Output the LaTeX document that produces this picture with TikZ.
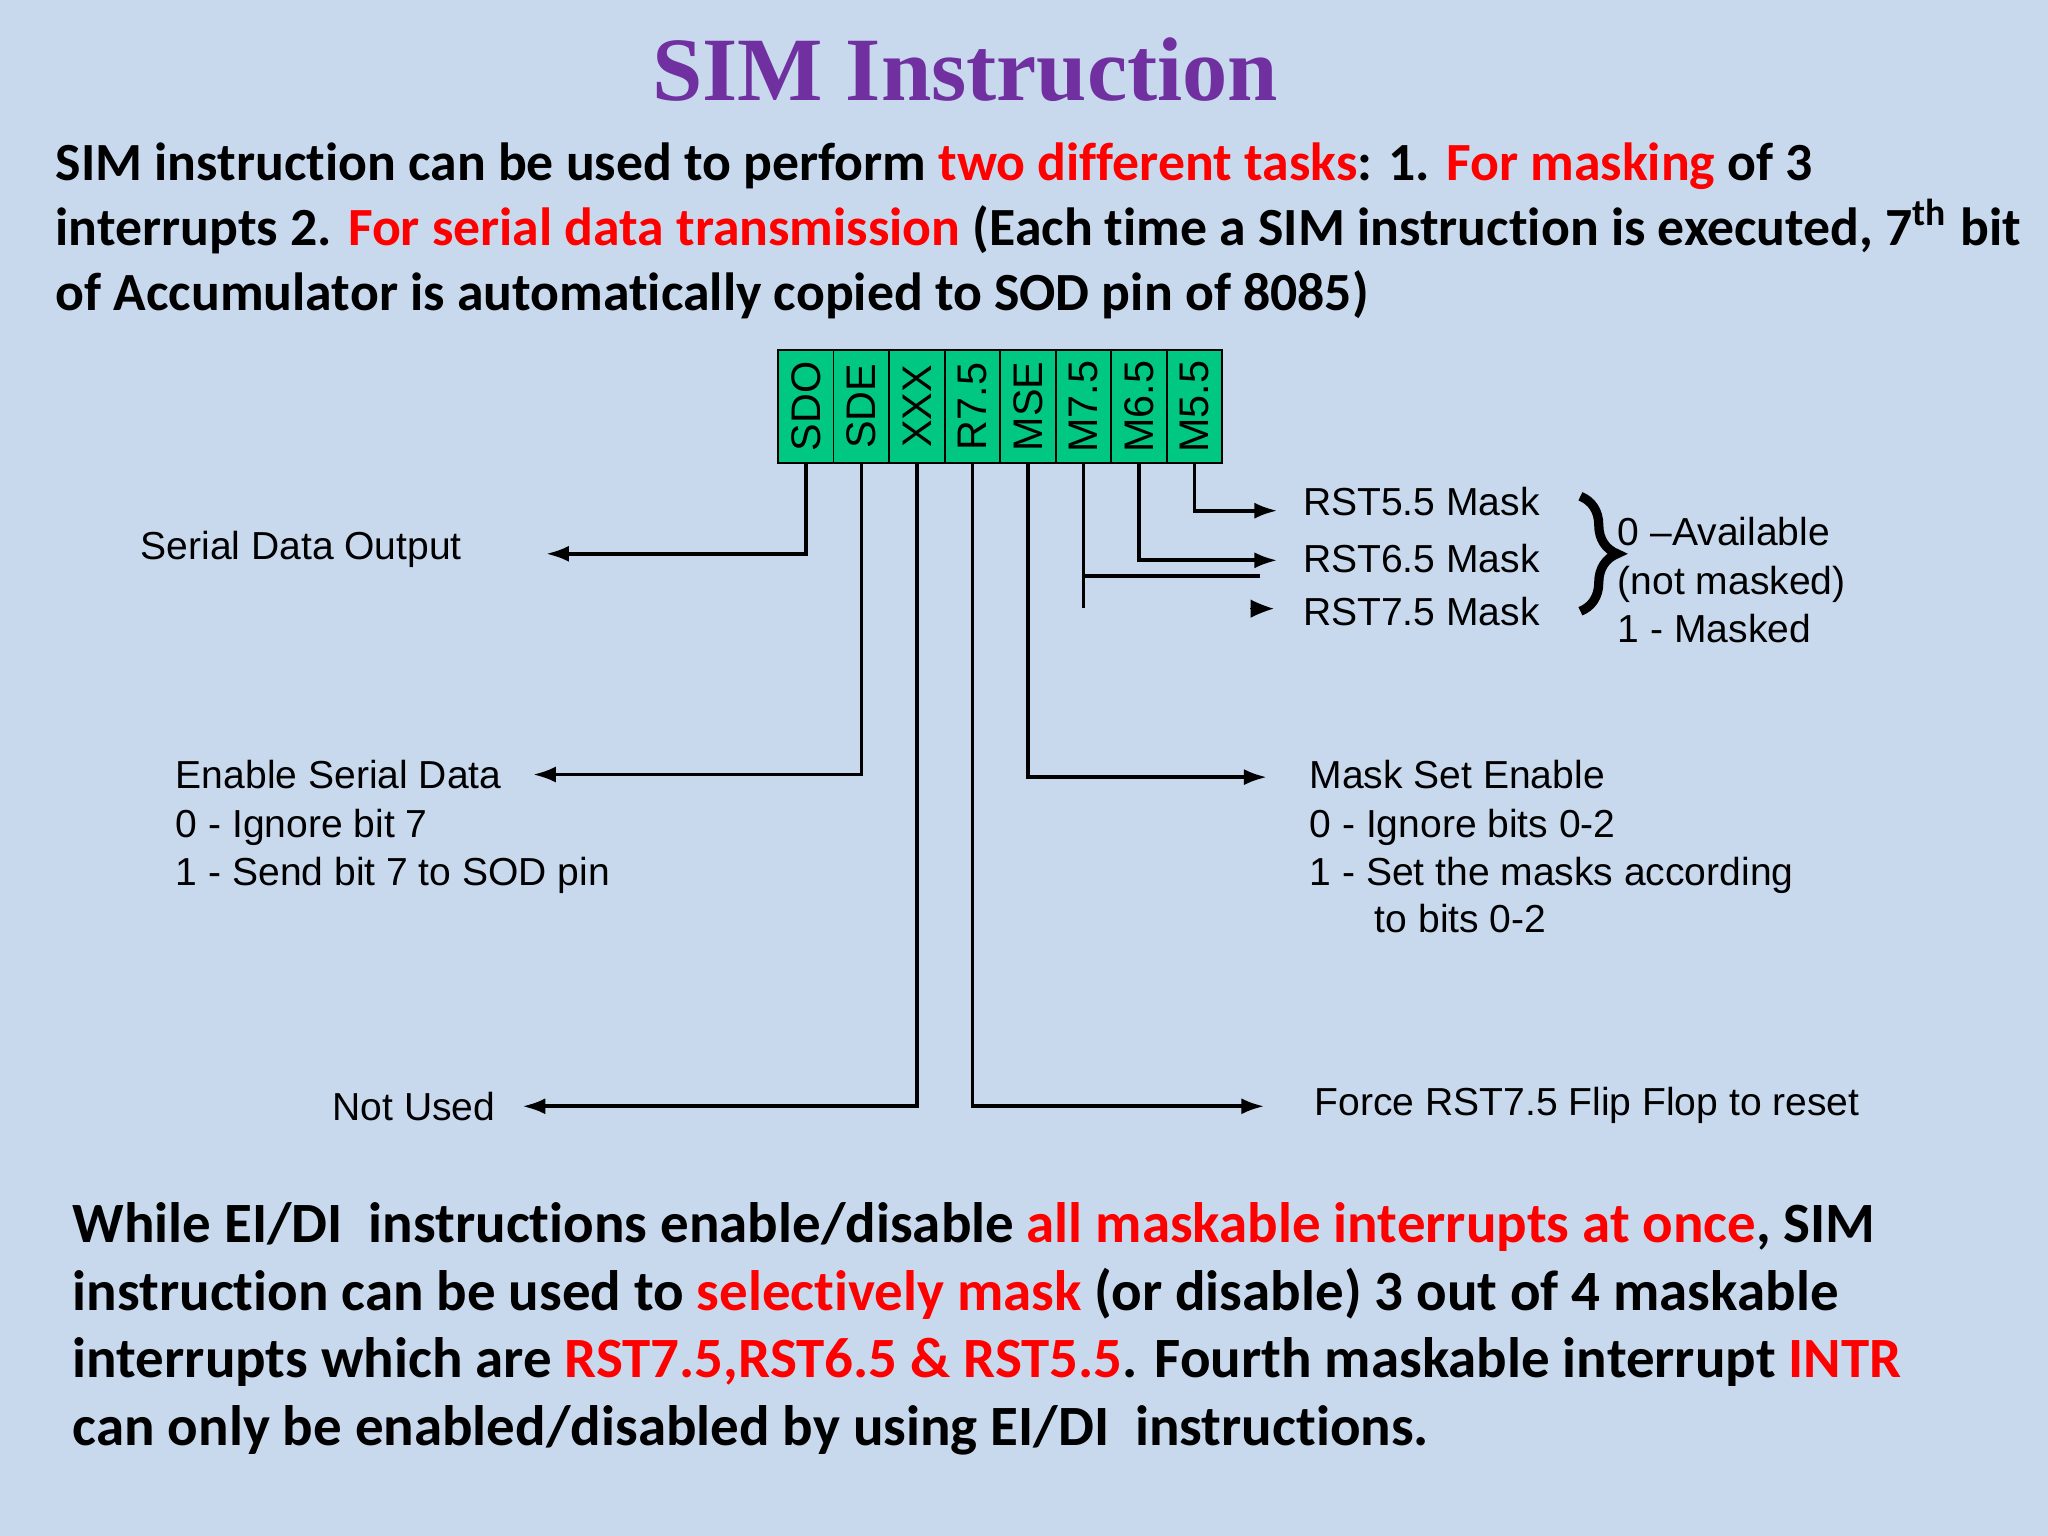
\documentclass[tikz,border=0pt]{standalone}
\usepackage{fontspec}
\setmainfont{Liberation Sans}
\newfontfamily\titlefont{Liberation Serif}
\newfontfamily\bodyfont[Ligatures=NoCommon]{Carlito}
\usetikzlibrary{arrows.meta,decorations.pathreplacing}
\definecolor{bg}{RGB}{200,217,238}
\definecolor{cellg}{RGB}{0,200,130}
\definecolor{ttl}{RGB}{112,48,160}
\definecolor{rd}{RGB}{255,0,0}
\newcommand{\rr}[1]{\textcolor{rd}{#1}}
\begin{document}
\begin{tikzpicture}[x=0.01cm,y=-0.01cm,
  para/.style={anchor=base west,inner sep=0,font=\bodyfont\bfseries\fontsize{11.7}{13}\selectfont},
  parb/.style={anchor=base west,inner sep=0,font=\bodyfont\bfseries\fontsize{12.4}{14}\selectfont},
  lbl/.style={anchor=base west,inner sep=0,font=\fontsize{8.5}{10}\selectfont},
  cell/.style={draw,fill=cellg,minimum width=0.425cm,minimum height=0.87cm,inner sep=0,anchor=north west},
  conn/.style={line width=0.8pt,-{Latex[length=5pt,width=3.5pt]}},
  plain/.style={line width=0.8pt}]
\fill[bg] (0,0) rectangle (1568,1176);
\useasboundingbox (0,0) rectangle (1568,1176);
\node[font=\titlefont\bfseries\fontsize{19.7}{24}\selectfont,text=ttl,inner sep=0,anchor=base] (title) at (739,77) {SIM Instruction};
\node[para] (p1) at (42,138) {SIM instruction can be used to perform \rr{two different tasks}: 1. \rr{For masking} of 3};
\node[para] (p2) at (42,188) {interrupts 2. \rr{For serial data transmission} (Each time a SIM instruction is executed, 7\textsuperscript{th} bit};
\node[para] (p3) at (42,238) {of Accumulator is automatically copied to SOD pin of 8085)};
\foreach \t [count=\i] in {SDO,SDE,XXX,R7.5,MSE,M7.5,M6.5,M5.5}{
  \node[cell] (c\i) at ({595+(\i-1)*42.5},267) {};
  \node[rotate=90,font=\fontsize{9}{10}\selectfont,inner sep=0] (t\i) at (c\i) {\t};
}
\coordinate (sdo) at (418,424); \draw[conn] (c1.south) |- (sdo);
\node[lbl] (l1) at (107,428) {Serial Data Output};
\coordinate (sde) at (408,593); \draw[conn] (c2.south) |- (sde);
\node[lbl] (l2) at (134,604) {Enable Serial Data};
\node[lbl] (l2b) at (134,641) {0 - Ignore bit 7};
\node[lbl] (l2c) at (134,678) {1 - Send bit 7 to SOD pin};
\coordinate (xxx) at (400,847); \draw[conn] (c3.south) |- (xxx);
\node[lbl,anchor=base east] (l3) at (380,858) {Not Used};
\coordinate (r75) at (968,847); \draw[conn] (c4.south) |- (r75);
\node[lbl] (l4) at (1006,854) {Force RST7.5 Flip Flop to reset};
\coordinate (mse) at (970,595); \draw[conn] (c5.south) |- (mse);
\node[lbl] (l5) at (1002,604) {Mask Set Enable};
\node[lbl] (l5b) at (1002,641) {0 - Ignore bits 0-2};
\node[lbl] (l5c) at (1002,678) {1 - Set the masks according};
\node[lbl] (l5d) at (1052,714) {to bits 0-2};
\draw[plain] (c6.south) -- ++(0,110) coordinate (m75end);
\coordinate (m75b) at (965,441); \draw[plain] (c6.south |- m75b) -- (m75b);
\coordinate (tipa) at (964,466); \coordinate (tipb) at (975,466);
\draw[-{Latex[length=5pt,width=4pt]},line width=0pt] (tipa) -- (tipb);
\coordinate (m65) at (978,429); \draw[conn] (c7.south) |- (m65);
\coordinate (m55) at (978,391); \draw[conn] (c8.south) |- (m55);
\node[lbl] (r1) at (997,395) {RST5.5 Mask};
\node[lbl] (r2) at (997,438) {RST6.5 Mask};
\node[lbl] (r3) at (997,479) {RST7.5 Mask};
\coordinate (b1) at (1210,380); \coordinate (b2) at (1210,468);
\draw[line width=2pt,decorate,decoration={brace,amplitude=8pt}] (b1) -- (b2);
\node[lbl] (a1) at (1238,418) {0 --Available};
\node[lbl] (a2) at (1238,455) {(not masked)};
\node[lbl] (a3) at (1238,492) {1 - Masked};
\node[parb] (q1) at (55,951) {While EI/DI\ \ instructions enable/disable \rr{all maskable interrupts at once}, SIM};
\node[parb] (q2) at (55,1003) {instruction can be used to \rr{selectively mask} (or disable) 3 out of 4 maskable};
\node[parb] (q3) at (55,1055) {interrupts which are \rr{RST7.5,RST6.5 \& RST5.5}. Fourth maskable interrupt \rr{INTR}};
\node[parb] (q4) at (55,1107) {can only be enabled/disabled by using EI/DI\ \ instructions.};
\end{tikzpicture}
\end{document}
